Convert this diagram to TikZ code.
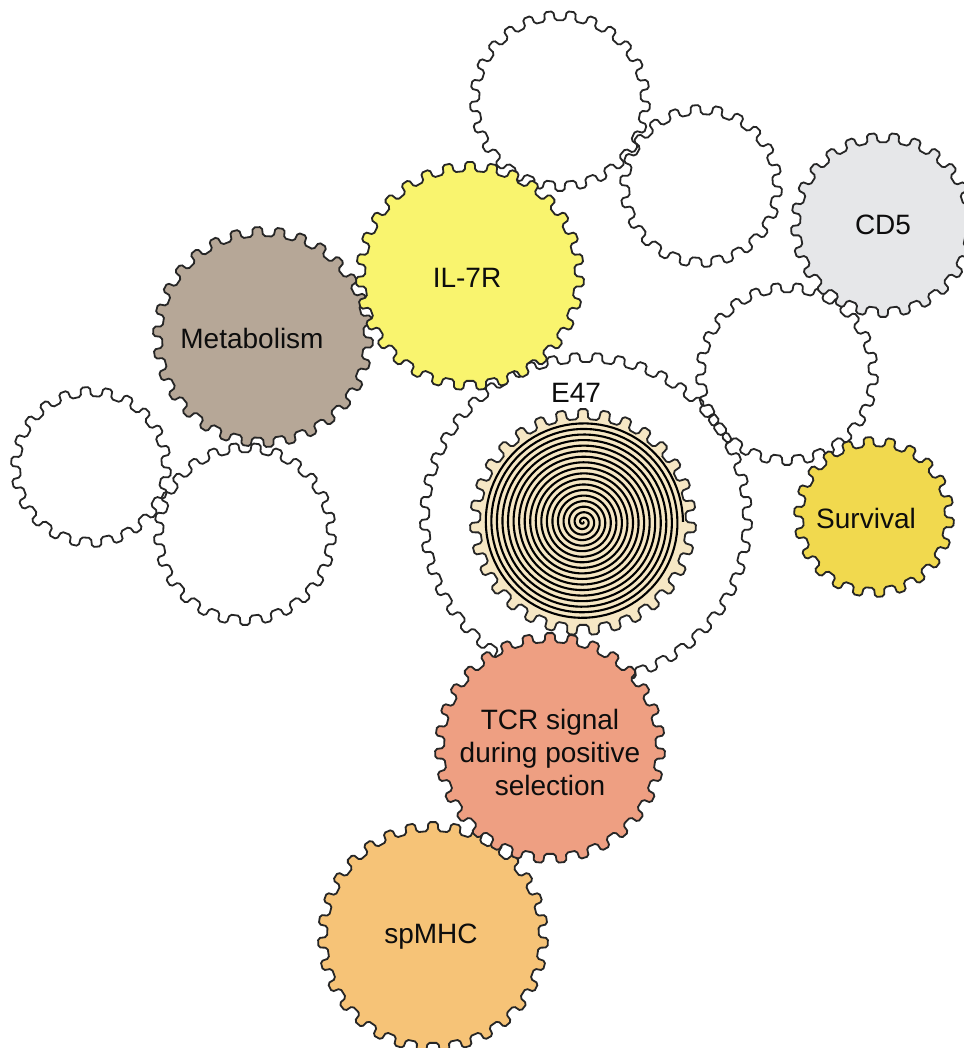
\documentclass[tikz,border=0pt]{standalone}
\usepackage{fontspec}
\setmainfont{Liberation Sans}
\definecolor{metabfill}{HTML}{B6A797}
\definecolor{ilfill}{HTML}{F9F46E}
\definecolor{cdfill}{HTML}{E6E7E9}
\definecolor{survfill}{HTML}{F1D94E}
\definecolor{tcrfill}{HTML}{EE9F82}
\definecolor{mhcfill}{HTML}{F6C377}
\definecolor{e47fill}{HTML}{F6E7C4}
\tikzset{
  cogline/.style={draw=black!85, line width=1.8pt, rounded corners=2pt},
  cogtext/.style={font=\fontsize{28}{33}\selectfont, align=center, text=black!95},
  % #1 teeth, #2 outer radius, #3 tooth depth
  pics/cog/.style n args={3}{code={
    \pgfmathsetmacro\cogp{360/#1}
    \path[pic actions] (0:{#2-#3}) -- ({0.05*\cogp}:#2) -- ({0.45*\cogp}:#2) -- ({0.5*\cogp}:{#2-#3})
      \foreach \k in {2,...,#1}{
        -- ({(\k-1)*\cogp}:{#2-#3}) -- ({(\k-1+0.05)*\cogp}:#2)
        -- ({(\k-1+0.45)*\cogp}:#2) -- ({(\k-0.5)*\cogp}:{#2-#3})
      } -- cycle;
  }}
}
\begin{document}
\begin{tikzpicture}[x=1pt,y=-1pt]
\useasboundingbox (0,0) rectangle (963,1048);
% empty gears
\pic[cogline] at (560,101) {cog={25}{90}{9}};
\pic[cogline] at (701,186) {cog={22}{81}{9}};
\pic[cogline] at (787,374) {cog={25}{91}{9}};
\pic[cogline] at (91,467) {cog={22}{80}{9}};
\pic[cogline] at (245,534) {cog={25}{91}{9}};
\pic[cogline] at (586,519) {cog={45}{166}{9}};
% coloured gears
\pic[cogline, fill=cdfill] at (883,225) {cog={25}{92}{9}};
\pic[cogline, fill=metabfill] at (263,337) {cog={30}{110}{9}};
\pic[cogline, fill=ilfill] at (470,276) {cog={31}{114}{9}};
\pic[cogline, fill=survfill] at (874,517) {cog={22}{80}{9}};
\pic[cogline, fill=mhcfill] at (433,937) {cog={31}{115}{9}};
\pic[cogline, fill=tcrfill] at (550,748) {cog={31}{115}{9}};
\pic[cogline, fill=e47fill] at (583,522) {cog={31}{113}{10}};
\draw[line width=2.1pt, shift={(583,522)}] plot[domain=0:6480, samples=1620, variable=\t] (\t:{\t/6480*100});
% labels
\node[cogtext] (cd5) at (883,225) {CD5};
\node[cogtext] (metab) at (252,338) {Metabolism};
\node[cogtext] (il7r) at (467,278) {IL-7R};
\node[cogtext] (e47) at (576,393) {E47};
\node[cogtext] (surv) at (866,518) {Survival};
\node[cogtext] (tcr) at (550,752) {TCR signal\\during positive\\selection};
\node[cogtext] (spmhc) at (431,937) {spMHC};
\end{tikzpicture}
\end{document}
